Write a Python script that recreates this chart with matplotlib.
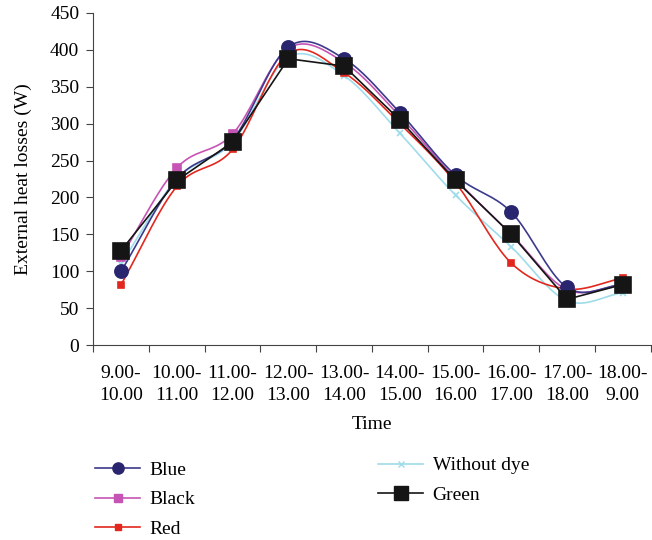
import numpy as np
import matplotlib
matplotlib.use("Agg")
import matplotlib.pyplot as plt
from matplotlib.lines import Line2D

plt.rcParams["font.family"] = ["Liberation Serif", "DejaVu Serif"]

# ── Data ───────────────────────────────────────────────────────────────────────
periods = ["9.00-\n10.00", "10.00-\n11.00", "11.00-\n12.00", "12.00-\n13.00",
           "13.00-\n14.00", "14.00-\n15.00", "15.00-\n16.00", "16.00-\n17.00",
           "17.00-\n18.00", "18.00-\n9.00"]
blue        = [100, 225, 278, 404, 388, 315, 230, 180, 78, 82]
black       = [120, 240, 286, 402, 383, 310, 225, 150, 75, 82]
red         = [82, 215, 265, 395, 369, 300, 220, 111, 76, 91]
without_dye = [110, 225, 275, 390, 365, 287, 203, 133, 60, 71]
green       = [128, 223, 275, 388, 378, 305, 223, 150, 62, 82]

x = np.arange(len(periods)) + 0.5
FS = 14


def smooth(xs, ys, n=20):
    # Catmull-Rom curve through the points, like Excel's "smoothed line"
    xs, ys = np.asarray(xs, float), np.asarray(ys, float)
    px = np.concatenate([[2 * xs[0] - xs[1]], xs, [2 * xs[-1] - xs[-2]]])
    py = np.concatenate([[2 * ys[0] - ys[1]], ys, [2 * ys[-1] - ys[-2]]])
    outx, outy = [], []
    t = np.linspace(0, 1, n, endpoint=False)
    for i in range(1, len(px) - 2):
        for p, out in ((px, outx), (py, outy)):
            p0, p1, p2, p3 = p[i - 1], p[i], p[i + 1], p[i + 2]
            out.extend(0.5 * (2 * p1 + (-p0 + p2) * t
                              + (2 * p0 - 5 * p1 + 4 * p2 - p3) * t ** 2
                              + (-p0 + 3 * p1 - 3 * p2 + p3) * t ** 3))
    outx.append(xs[-1])
    outy.append(ys[-1])
    return outx, outy


series = [
    # label, values, line colour, marker, marker size, marker colour, smoothed
    ("Without dye", without_dye, "#9fdcea", "x", 5, "#9fdcea", True),
    ("Black", black, "#c654b4", "s", 6, "#c654b4", True),
    ("Red", red, "#e2281e", "s", 5, "#e2281e", True),
    ("Blue", blue, "#3c3a8c", "o", 9.5, "#2a256f", True),
    ("Green", green, "#151515", "s", 11.5, "#151515", False),
]

fig = plt.figure(figsize=(6.52, 5.40), dpi=100)
ax = fig.add_axes([0.143, 0.361, 0.855, 0.615])

handles = {}
for label, vals, lc, mk, ms, mc, sm in series:
    if sm:
        sx, sy = smooth(x, vals)
    else:
        sx, sy = x, vals
    ax.plot(sx, sy, color=lc, lw=1.2)
    ax.plot(x, vals, ls="none", marker=mk, ms=ms, color=mc, mew=1.2)
    handles[label] = Line2D([], [], color=lc, lw=1.2, marker=mk,
                            ms=ms * 0.85, mfc=mc, mec=mc)

ax.set_xlim(0, len(periods))
ax.set_ylim(0, 450)
ax.set_yticks(range(0, 451, 50))
ax.set_xticks(np.arange(len(periods) + 1))
ax.set_xticklabels([])
ax.set_xticks(x, minor=True)
ax.set_xticklabels(periods, minor=True, fontsize=FS, linespacing=1.4)
ax.tick_params(axis="x", which="minor", length=0, pad=14)
ax.tick_params(axis="x", which="major", direction="out", length=5,
               color="#444444")
ax.tick_params(axis="y", direction="out", length=5, color="#444444",
               labelsize=FS, pad=5)
for s in ("top", "right"):
    ax.spines[s].set_visible(False)
for s in ("left", "bottom"):
    ax.spines[s].set_color("#444444")

ax.set_ylabel("External heat losses (W)", fontsize=FS, labelpad=13)
ax.set_xlabel("Time", fontsize=FS, labelpad=9)

leg_kw = dict(frameon=False, fontsize=FS, handlelength=2.3,
              handletextpad=0.5, labelspacing=0.62, borderaxespad=0,
              borderpad=0)
leg1 = fig.legend([handles[k] for k in ("Blue", "Black", "Red")],
                  ["Blue", "Black", "Red"], loc="upper left",
                  bbox_to_anchor=(0.146, 0.146), **leg_kw)
leg2 = fig.legend([handles[k] for k in ("Without dye", "Green")],
                  ["Without dye", "Green"], loc="upper left",
                  bbox_to_anchor=(0.58, 0.154), **leg_kw)

fig.savefig("out.png", dpi=100)
